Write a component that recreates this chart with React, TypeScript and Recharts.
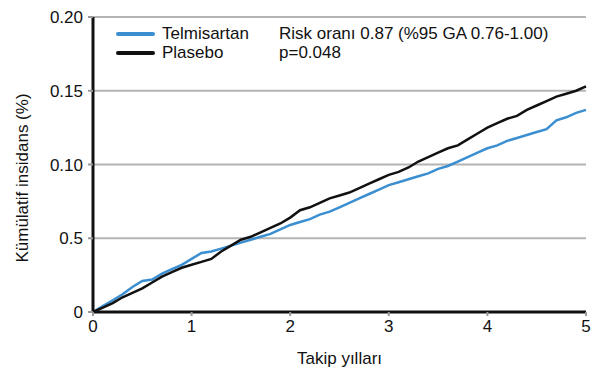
import { LineChart, Line, XAxis, YAxis, CartesianGrid } from "recharts";

const years = [
  0, 0.1, 0.2, 0.3, 0.4, 0.5, 0.6, 0.7, 0.8, 0.9, 1, 1.1, 1.2, 1.3, 1.4, 1.5, 1.6, 1.7, 1.8, 1.9, 2,
  2.1, 2.2, 2.3, 2.4, 2.5, 2.6, 2.7, 2.8, 2.9, 3, 3.1, 3.2, 3.3, 3.4, 3.5, 3.6, 3.7, 3.8, 3.9, 4,
  4.1, 4.2, 4.3, 4.4, 4.5, 4.6, 4.7, 4.8, 4.9, 5,
];

const telmisartan = [
  0, 0.004, 0.008, 0.012, 0.017, 0.021, 0.022, 0.026, 0.029, 0.032, 0.036, 0.04, 0.041, 0.043,
  0.045, 0.047, 0.049, 0.051, 0.053, 0.056, 0.059, 0.061, 0.063, 0.066, 0.068, 0.071, 0.074,
  0.077, 0.08, 0.083, 0.086, 0.088, 0.09, 0.092, 0.094, 0.097, 0.099, 0.102, 0.105, 0.108, 0.111,
  0.113, 0.116, 0.118, 0.12, 0.122, 0.124, 0.13, 0.132, 0.135, 0.137,
];

const plasebo = [
  0, 0.003, 0.006, 0.01, 0.013, 0.016, 0.02, 0.024, 0.027, 0.03, 0.032, 0.034, 0.036, 0.041,
  0.045, 0.049, 0.051, 0.054, 0.057, 0.06, 0.064, 0.069, 0.071, 0.074, 0.077, 0.079, 0.081,
  0.084, 0.087, 0.09, 0.093, 0.095, 0.098, 0.102, 0.105, 0.108, 0.111, 0.113, 0.117, 0.121, 0.125,
  0.128, 0.131, 0.133, 0.137, 0.14, 0.143, 0.146, 0.148, 0.15, 0.153,
];

const xTicks = [0, 1, 2, 3, 4, 5];
const yTicks = [0, 0.05, 0.1, 0.15, 0.2];
const yTickLabels = ["0", "0.5", "0.10", "0.15", "0.20"];

const BLUE = "#3b8fd1";
const BLACK = "#111111";
const FONT = "'Liberation Sans', Arial, Helvetica, sans-serif";

const data = years.map((t, i) => ({ t, telmisartan: telmisartan[i], plasebo: plasebo[i] }));

function LegendBox() {
  const row = (color: string, label: string, note: string) => (
    <div style={{ display: "flex", alignItems: "center", height: 19 }}>
      <div style={{ width: 39, height: 4, background: color, borderRadius: 2, marginRight: 7 }} />
      <span style={{ width: 117 }}>{label}</span>
      <span>{note}</span>
    </div>
  );
  return (
    <div
      style={{
        position: "absolute",
        left: 116,
        top: 24,
        fontFamily: FONT,
        fontSize: 17,
        color: "#111",
        lineHeight: "19px",
      }}
    >
      {row(BLUE, "Telmisartan", "Risk oranı 0.87 (%95 GA 0.76-1.00)")}
      {row(BLACK, "Plasebo", "p=0.048")}
    </div>
  );
}

const YLabel = () => (
  <text
    x={22}
    y={178}
    transform="rotate(-90 22 178)"
    textAnchor="middle"
    dominantBaseline="central"
    fontSize={17}
    fill="#111"
    fontFamily={FONT}
  >
    Kümülatif insidans (%)
  </text>
);

export default function App() {
  return (
    <div style={{ position: "absolute", left: 0, top: 0, width: 593, height: 374, background: "#fff" }}>
      <LineChart width={593} height={374} data={data} margin={{ top: 17, right: 7, bottom: 0, left: 0 }}>
        <CartesianGrid vertical={false} stroke="#b4b4b4" strokeWidth={2} />
        <XAxis
          dataKey="t"
          type="number"
          domain={[0, 5]}
          ticks={xTicks}
          height={62}
          axisLine={{ stroke: "#111", strokeWidth: 3 }}
          tickLine={{ stroke: "#999", strokeWidth: 2 }}
          tickSize={4}
          tickMargin={4}
          tick={{ fontSize: 17, fill: "#111", fontFamily: FONT }}
          label={{ value: "Takip yılları", position: "insideBottom", offset: 10, fontSize: 17, fill: "#111", fontFamily: FONT }}
        />
        <YAxis
          type="number"
          domain={[0, 0.2]}
          ticks={yTicks}
          width={93}
          tickFormatter={(v: number) => yTickLabels[yTicks.indexOf(v)] ?? String(v)}
          axisLine={{ stroke: "#111", strokeWidth: 3 }}
          tickLine={{ stroke: "#999", strokeWidth: 2 }}
          tickSize={5}
          tickMargin={5}
          tick={{ fontSize: 17, fill: "#111", fontFamily: FONT }}
          label={{ content: () => <YLabel /> }}
        />
        <Line dataKey="telmisartan" stroke={BLUE} strokeWidth={2.5} dot={false} type="linear" isAnimationActive={false} />
        <Line dataKey="plasebo" stroke={BLACK} strokeWidth={2.5} dot={false} type="linear" isAnimationActive={false} />
      </LineChart>
      <LegendBox />
    </div>
  );
}
